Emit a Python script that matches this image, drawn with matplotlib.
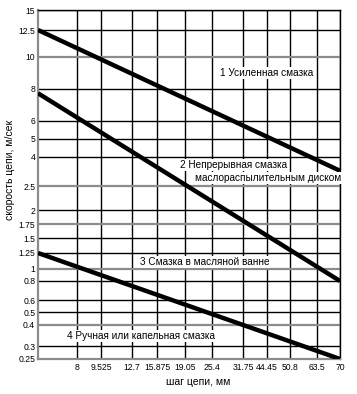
import numpy as np
import matplotlib
matplotlib.use("Agg")
import matplotlib.pyplot as plt
from matplotlib.ticker import FixedLocator, FixedFormatter, NullLocator

plt.rcParams['font.family'] = ['Liberation Sans', 'DejaVu Sans']

# ------------------------------------------------------
# data
# ------------------------------------------------------
pitch_ticks = [8, 9.525, 12.7, 15.875, 19.05, 25.4, 31.75, 44.45, 50.8, 63.5, 70]
pitch_labels = ["8", "9.525", "12.7", "15.875", "19.05", "25.4", "31.75", "44.45", "50.8", "63.5", "70"]
speed_ticks = [0.25, 0.3, 0.4, 0.5, 0.6, 0.8, 1, 1.25, 1.5, 1.75, 2, 2.5, 4, 5, 6, 8, 10, 12.5, 15]
speed_labels = ["0.25", "0.3", "0.4", "0.5", "0.6", "0.8", "1", "1.25", "1.5", "1.75", "2", "2.5",
                "4", "5", "6", "8", "10", "12.5", "15"]
gray_speeds = [10, 2.5, 1.75, 1, 0.4]

line_pitch = [6.35, 70]
speed_boost = [12.5, 3.2]     # border 1 / 2
speed_disk = [7.7, 0.8]       # border 2 / 3
speed_drip = [1.25, 0.25]     # border 3 / 4

zone_labels = ["1 Усиленная смазка", "2 Непрерывная смазка", "маслораспылительным диском",
               "3 Смазка в масляной ванне", "4 Ручная или капельная смазка"]

# ------------------------------------------------------
# the drawing uses an uneven (hand made) grid, so map
# values to axis positions by interpolation in log space
# ------------------------------------------------------
x_min = 6.35
x_grid_px = [0, 39, 63, 94, 119, 147, 174, 205, 229, 252, 279, 302]
y_grid_px = [0, 13, 34, 47, 59, 78, 90, 106, 121, 135, 149, 173, 202, 220, 238, 270, 302, 329, 349]


def interp_scale(vals, px):
    lv = np.log(np.asarray(vals, dtype=float))
    px = np.asarray(px, dtype=float)

    def fwd(v):
        v = np.clip(np.asarray(v, dtype=float), 1e-6, None)
        return np.interp(np.log(v), lv, px)

    def inv(p):
        return np.exp(np.interp(p, px, lv))
    return fwd, inv


W, H = 357, 394
L, T, R, B = 38, 10, 340, 359
fig = plt.figure(figsize=(W / 100, H / 100), dpi=100)
ax = fig.add_axes([L / W, (H - B) / H, (R - L) / W, (B - T) / H])

ax.set_xscale('function', functions=interp_scale([x_min] + pitch_ticks, x_grid_px))
ax.set_yscale('function', functions=interp_scale(speed_ticks, y_grid_px))
ax.set_xlim(x_min, 70)
ax.set_ylim(0.25, 15)

ax.xaxis.set_major_locator(FixedLocator(pitch_ticks))
ax.xaxis.set_major_formatter(FixedFormatter(pitch_labels))
ax.yaxis.set_major_locator(FixedLocator(speed_ticks))
ax.yaxis.set_major_formatter(FixedFormatter(speed_labels))
ax.xaxis.set_minor_locator(NullLocator())
ax.yaxis.set_minor_locator(NullLocator())
ax.tick_params(length=0, labelsize=6.2)
ax.tick_params(axis="x", pad=3)
ax.tick_params(axis="y", pad=2)

# grid
for p in pitch_ticks:
    ax.axvline(p, color="black", lw=1.0, zorder=1)
for s in speed_ticks:
    c = "#8c8c8c" if s in gray_speeds else "black"
    w = 1.6 if s in gray_speeds else 1.0
    ax.axhline(s, color=c, lw=w, zorder=1)

for side in ["left", "bottom"]:
    ax.spines[side].set_color("#8c8c8c")
    ax.spines[side].set_linewidth(1.6)
for side in ["top", "right"]:
    ax.spines[side].set_color("black")
    ax.spines[side].set_linewidth(1.0)

# border lines
for sp in [speed_boost, speed_disk, speed_drip]:
    ax.plot(line_pitch, sp, color="black", lw=3.2, solid_capstyle="butt", zorder=3)

# zone names, placed by pixel position inside the axes
label_px = [(220, 73), (180, 165), (195, 178), (140, 262), (67, 336)]
box = dict(facecolor="white", edgecolor="none", pad=0.5)
for txt, (px, py) in zip(zone_labels, label_px):
    ax.text((px - L) / (R - L), (B - py) / (B - T), txt, transform=ax.transAxes,
            fontsize=7.2, ha="left", va="center", bbox=box, zorder=4)

fig.text(198 / W, 1 - 382 / H, "шаг цепи, мм", fontsize=7.5, ha="center", va="center")
fig.text(10 / W, 1 - 170 / H, "скорость цепи, м/сек", fontsize=7.5, ha="center", va="center",
         rotation=90)

fig.savefig("out.png", dpi=100)
